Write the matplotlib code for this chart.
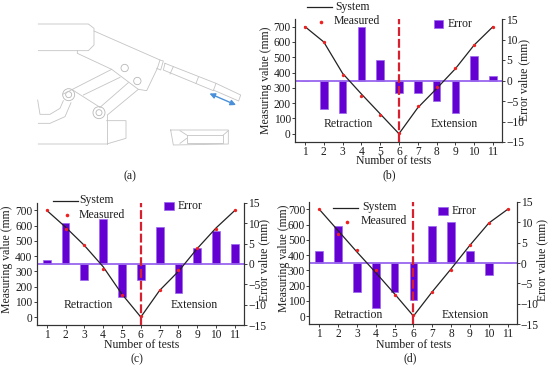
import matplotlib
matplotlib.use("Agg")
import matplotlib.pyplot as plt
from matplotlib.patches import Circle, Rectangle
import numpy as np

plt.rcParams['font.family'] = ['Liberation Serif', 'DejaVu Serif']
plt.rcParams['axes.unicode_minus'] = True
FS = 8.5
TS = 8.3
W, H = 550, 366

tests = list(range(1, 12))
# panel (b)
system_b = [700, 600, 395, 260, 130, 0, 170, 295, 425, 580, 700]
measured_b = [700, 600, 385, 245, 125, 5, 180, 305, 430, 580, 700]
error_b = [0, -7, -8, 13, 5, -3, -3, -5, -8, 6, 1]
# panel (c)
system_c = [700, 590, 470, 330, 150, 0, 175, 300, 450, 585, 700]
measured_c = [700, 580, 470, 315, 147, 5, 180, 310, 450, 580, 700]
error_c = [1, 10, -4, 11, -8, -4, 9, -7, 4, 8, 5]
# panel (d)
system_d = [700, 560, 420, 285, 145, 0, 160, 310, 465, 610, 700]
measured_d = [700, 540, 435, 300, 135, 5, 155, 300, 465, 610, 700]
error_d = [3, 9, -7, -11, -7, -9, 9, 10, 3, -3, 0]

y_ticks = [0, 100, 200, 300, 400, 500, 600, 700]
err_ticks = [-15, -10, -5, 0, 5, 10, 15]
err_labels = ['\u221215', '\u221210', '\u22125', '0', '5', '10', '15']

panels = [
    dict(sys=system_b, mea=measured_b, err=error_b, box=(295, 502, 19, 142), tag='(b)', tagp=(389, 175),
         xl=(394, 161.5), yl=(266, 80), yr=(524, 80), ret=(348, 124), ext=(454, 124),
         line=(307, 332, 7), ltx=335, ltxy=7, mk=(321, 22), mt=(334, 21), patch=(434, 443, 24), ptx=448),
    dict(sys=system_c, mea=measured_c, err=error_c, box=(36.7, 244, 202.7, 325.3), tag='(c)', tagp=(137, 359),
         xl=(142, 345.5), yl=(7, 259), yr=(264, 260), ret=(88, 305), ext=(194, 305),
         line=(53, 78, 201), ltx=79, ltxy=200.5, mk=(67, 215), mt=(79, 215), patch=(164, 174, 206), ptx=178),
    dict(sys=system_d, mea=measured_d, err=error_d, box=(309.3, 516.7, 201.7, 324.3), tag='(d)', tagp=(410, 358),
         xl=(414, 344.5), yl=(284, 258), yr=(542, 260), ret=(358, 315), ext=(465, 315),
         line=(333, 358, 208), ltx=362, ltxy=207, mk=(347, 222), mt=(361, 221), patch=(438, 448, 211), ptx=452),
]

fig = plt.figure(figsize=(5.5, 3.66), dpi=100)
ov = fig.add_axes([0, 0, 1, 1], zorder=5)
ov.set_xlim(0, W)
ov.set_ylim(H, 0)
ov.axis('off')
ov.patch.set_alpha(0)

PURPLE = '#6500d2'
EDGE = '#9a66ee'
RED = '#d9202e'
INK = '#1e1e1e'

for p in panels:
    l, r, t, b = p['box']
    ax = fig.add_axes([l / W, 1 - b / H, (r - l) / W, (b - t) / H])
    ax2 = ax.twinx()
    ax.set_zorder(2)
    ax2.set_zorder(1)
    ax.patch.set_visible(False)
    ax2.bar(tests, p['err'], width=0.41, color=PURPLE, edgecolor=EDGE, linewidth=0.5)
    ax2.axhline(0, color=EDGE, lw=1.3)
    ax2.set_ylim(-15, 15)
    ax2.set_yticks(err_ticks)
    ax2.set_yticklabels(err_labels)
    ax.plot(tests, p['sys'], color='#222222', lw=0.9)
    ax.plot(tests, p['mea'], ls='none', marker='o', ms=2.4, color='#f02020', mew=0)
    ax.axvline(6, color=RED, lw=1.6, ls=(0, (4, 1.3)))
    ax.set_xlim(0.47, 11.48)
    ax.set_ylim(-54, 750)
    ax.set_xticks(tests)
    ax.set_yticks(y_ticks)
    for a in (ax, ax2):
        a.tick_params(labelsize=TS, length=2.2, width=0.6, pad=0.8, colors=INK)
        a.spines['top'].set_visible(False)
        for s in a.spines.values():
            s.set_linewidth(0.8)
            s.set_color('#333333')
    kw = dict(fontsize=FS, color=INK, ha='center', va='center')
    ov.text(*p['xl'], 'Number of tests', **kw)
    ov.text(*p['yl'], 'Measuring value (mm)', rotation=90, **kw)
    ov.text(*p['yr'], 'Error value (mm)', rotation=90, **kw)
    ov.text(*p['ret'], 'Retraction', **kw)
    ov.text(*p['ext'], 'Extension', **kw)
    ov.text(*p['tagp'], p['tag'], **kw)
    x0, x1, y = p['line']
    ov.plot([x0, x1], [y, y], color='#222222', lw=0.9)
    ov.text(p['ltx'], p['ltxy'], 'System', fontsize=FS, color=INK, va='center')
    ov.plot(*p['mk'], marker='o', ms=2.6, color='#f02020', mew=0)
    ov.text(p['mt'][0], p['mt'][1], 'Measured', fontsize=FS, color=INK, va='center')
    x0, x1, y = p['patch']
    ov.add_patch(Rectangle((x0, y - 4), x1 - x0, 8, fc=PURPLE, ec=EDGE, lw=0.5))
    ov.text(p['ptx'], y, 'Error', fontsize=FS, color=INK, va='center')

# panel (a): line-art schematic (zoomed-crop coordinates, 3x)
outline = [
    [(115, 72), (265, 72), (282, 85), (282, 135), (265, 152), (115, 152)],
    [(282, 93), (480, 180), (472, 205), (440, 272), (415, 268), (335, 208), (232, 160), (232, 152)],
    [(190, 282), (335, 208)], [(250, 285), (360, 232)], [(300, 322), (385, 248)], [(322, 345), (415, 268)],
    [(215, 268), (300, 322)],
    [(320, 345), (320, 432)], [(320, 362), (378, 362), (378, 415), (320, 432), (115, 432)],
    [(113, 300), (120, 343), (150, 343), (180, 325), (190, 302)],
    [(115, 370), (150, 370), (195, 350), (213, 308)],
    [(480, 180), (490, 183), (482, 210), (470, 205)],
    [(495, 190), (648, 250), (640, 272), (490, 210), (495, 190)],
    [(520, 200), (510, 222)], [(595, 232), (588, 250)],
    [(648, 250), (722, 285), (716, 303), (640, 270)],
    [(512, 390), (685, 390), (685, 432), (520, 435), (512, 390)],
    [(560, 405), (670, 405), (670, 430), (560, 430), (560, 405)],
    [(540, 392), (560, 405)], [(540, 430), (560, 415)], [(670, 405), (685, 392)],
]
for pts in outline:
    xs, ys = zip(*pts)
    ov.plot(np.array(xs) / 3, np.array(ys) / 3, color='#c4c4c4', lw=0.6)
for cx, cy, rad in [(374, 204, 11), (412, 243, 11), (206, 284, 18), (206, 284, 9), (297, 338, 18), (297, 338, 9)]:
    ov.add_patch(Circle((cx / 3, cy / 3), rad / 3, fc='none', ec='#b8b8b8', lw=0.6))
ov.annotate('', xy=(236, 105), xytext=(209.5, 93.5),
            arrowprops=dict(arrowstyle='<|-|>', color='#4a90d9', lw=1.0, mutation_scale=8, shrinkA=0, shrinkB=0))
ov.text(130, 176, '(a)', fontsize=FS, color=INK, ha='center', va='center')

fig.savefig('out.png', dpi=100)
